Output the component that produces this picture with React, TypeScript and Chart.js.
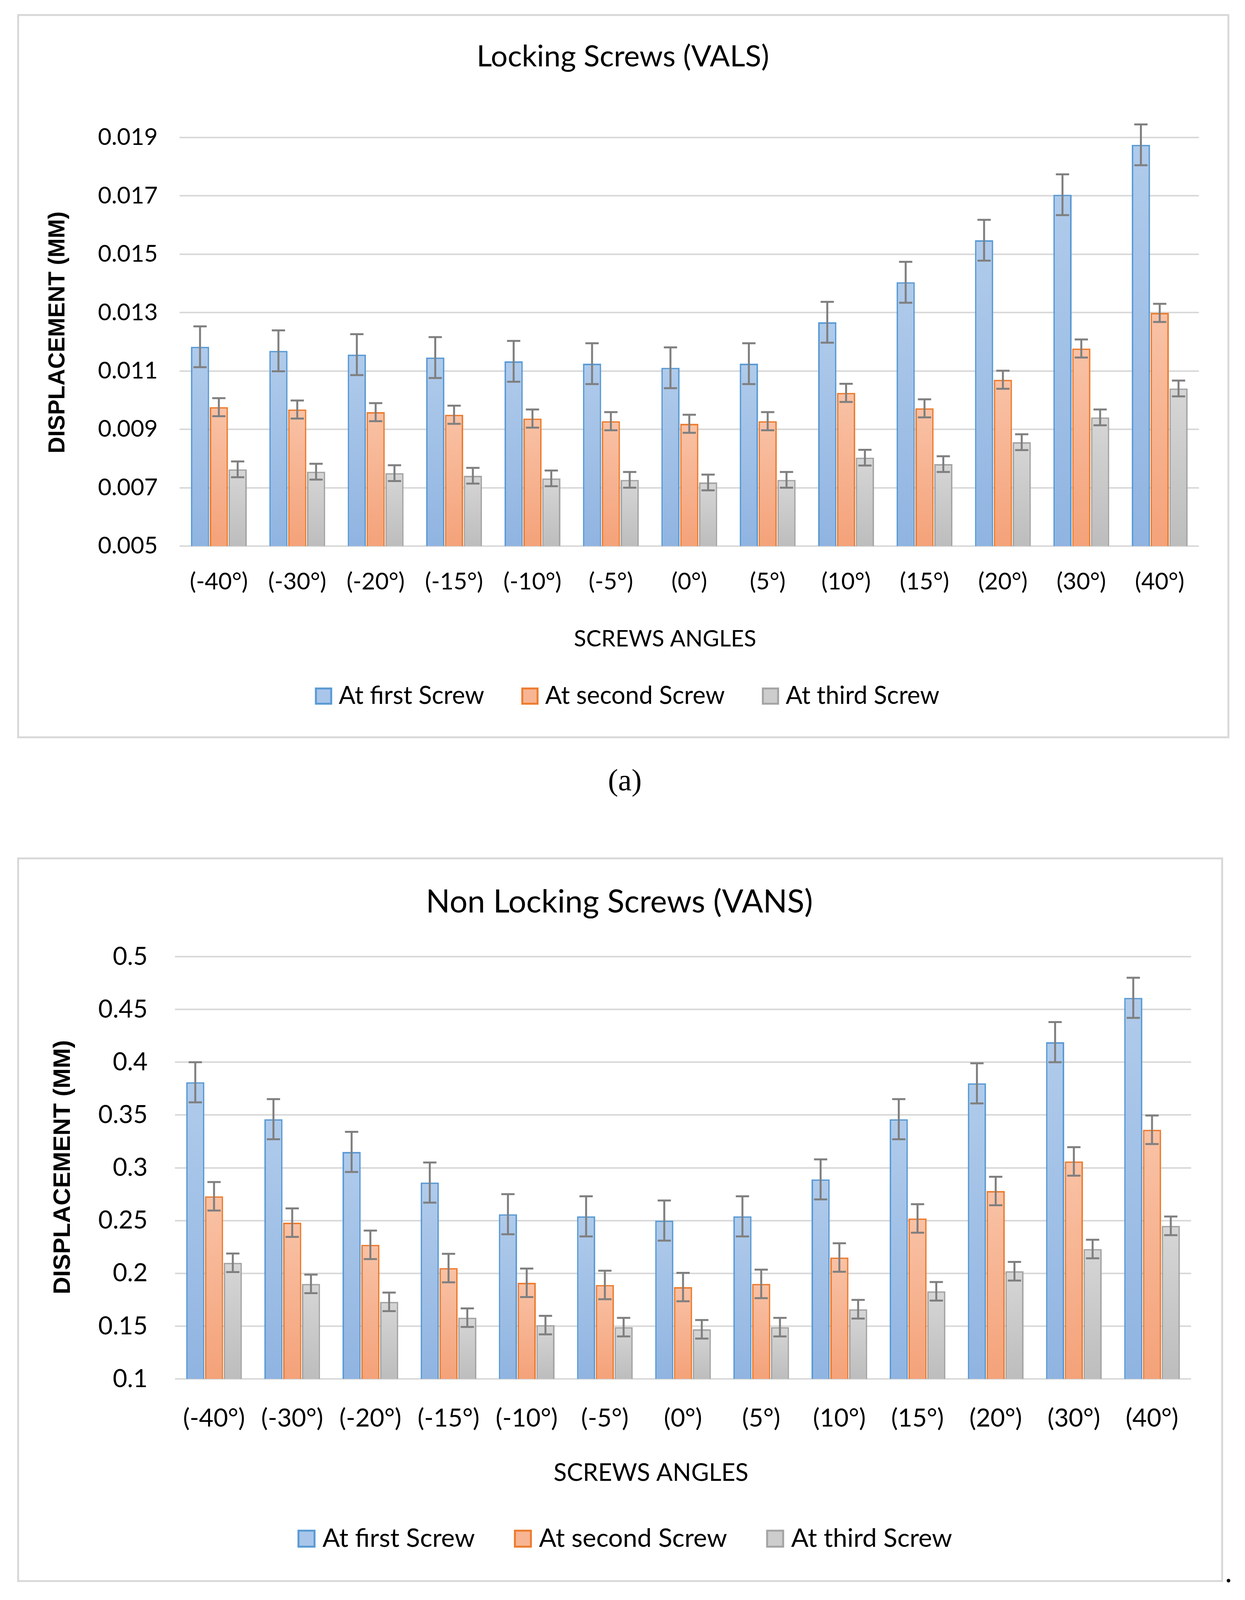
import React, { useEffect, useRef } from 'react';
import { Chart, registerables } from 'chart.js';

Chart.register(...registerables);

// ---------------- DATA ----------------
const ANGLES = ['(-40°)', '(-30°)', '(-20°)', '(-15°)', '(-10°)', '(-5°)', '(0°)', '(5°)', '(10°)', '(15°)', '(20°)', '(30°)', '(40°)'];
const SERIES_NAMES = ['At first Screw', 'At second Screw', 'At third Screw'];

// (a) Locking Screws (VALS)
const VALS_FIRST = [0.01183, 0.01169, 0.01156, 0.01146, 0.01133, 0.01125, 0.01111, 0.01125, 0.01267, 0.01404, 0.01548, 0.01704, 0.01875];
const VALS_SECOND = [0.00976, 0.00968, 0.00959, 0.0095, 0.00937, 0.00928, 0.00919, 0.00928, 0.01025, 0.00972, 0.0107, 0.01177, 0.01299];
const VALS_THIRD = [0.00763, 0.00755, 0.0075, 0.00741, 0.00732, 0.00727, 0.00718, 0.00727, 0.00803, 0.00781, 0.00856, 0.00941, 0.0104];
const VALS_FIRST_ERR = [0.0007, 0.0007, 0.0007, 0.0007, 0.0007, 0.0007, 0.0007, 0.0007, 0.0007, 0.0007, 0.0007, 0.0007, 0.0007];
const VALS_SECOND_ERR = [0.00031, 0.00031, 0.00031, 0.00031, 0.00031, 0.00031, 0.00031, 0.00031, 0.00031, 0.00031, 0.00031, 0.00031, 0.00031];
const VALS_THIRD_ERR = [0.00027, 0.00027, 0.00027, 0.00027, 0.00027, 0.00027, 0.00027, 0.00027, 0.00027, 0.00027, 0.00027, 0.00027, 0.00027];
const VALS_Y_TICKS = [0.005, 0.007, 0.009, 0.011, 0.013, 0.015, 0.017, 0.019];
const VALS_Y_LABELS = ['0.005', '0.007', '0.009', '0.011', '0.013', '0.015', '0.017', '0.019'];

// (b) Non Locking Screws (VANS)
const VANS_FIRST = [0.381, 0.346, 0.315, 0.286, 0.256, 0.254, 0.25, 0.254, 0.289, 0.346, 0.38, 0.419, 0.461];
const VANS_SECOND = [0.273, 0.248, 0.227, 0.205, 0.191, 0.189, 0.187, 0.19, 0.215, 0.252, 0.278, 0.306, 0.336];
const VANS_THIRD = [0.21, 0.19, 0.173, 0.158, 0.151, 0.149, 0.147, 0.149, 0.166, 0.183, 0.202, 0.223, 0.245];
const VANS_FIRST_ERR = [0.019, 0.019, 0.019, 0.019, 0.019, 0.019, 0.019, 0.019, 0.019, 0.019, 0.019, 0.019, 0.019];
const VANS_SECOND_ERR = [0.0135, 0.0135, 0.0135, 0.0135, 0.0135, 0.0135, 0.0135, 0.0135, 0.0135, 0.0135, 0.0135, 0.0135, 0.0135];
const VANS_THIRD_ERR = [0.0088, 0.0088, 0.0088, 0.0088, 0.0088, 0.0088, 0.0088, 0.0088, 0.0088, 0.0088, 0.0088, 0.0088, 0.0088];
const VANS_Y_TICKS = [0.1, 0.15, 0.2, 0.25, 0.3, 0.35, 0.4, 0.45, 0.5];
const VANS_Y_LABELS = ['0.1', '0.15', '0.2', '0.25', '0.3', '0.35', '0.4', '0.45', '0.5'];

// ---------------- STYLE ----------------
const SERIES_STYLE = [
  { border: '#5b9bd5', top: '#b0cbeb', bottom: '#90b4e1', legend: '#a9c6ea' },
  { border: '#ed7d31', top: '#f9c2a6', bottom: '#f4a279', legend: '#f7b594' },
  { border: '#a5a5a5', top: '#d6d6d6', bottom: '#bdbdbd', legend: '#cdcdcd' },
];
const GRID = '#d9d9d9';
const TEXT = '#000000';
const SANS = 'Lato, "Noto Sans", sans-serif';
const BOLD_SANS = '"Liberation Sans", Arial, sans-serif';

const barFill = (top: string, bottom: string) => (c: any) => {
  const chart = c.chart;
  if (!chart.chartArea || c.type !== 'data' || c.raw == null) return bottom;
  const ys = chart.scales.y;
  const yTop = ys.getPixelForValue(c.raw as number);
  const yBot = ys.getPixelForValue(ys.min);
  if (!isFinite(yTop) || !isFinite(yBot) || yBot - yTop < 1) return bottom;
  const g = chart.ctx.createLinearGradient(0, yTop, 0, yBot);
  g.addColorStop(0, top);
  g.addColorStop(1, bottom);
  return g;
};

const errorBarPlugin = {
  id: 'errorBars',
  afterDatasetsDraw(chart: any, _a: any, opts: any) {
    const { ctx } = chart;
    const ys = chart.scales.y;
    chart.data.datasets.forEach((ds: any, i: number) => {
      const meta = chart.getDatasetMeta(i);
      meta.data.forEach((el: any, j: number) => {
        const v = ds.data[j];
        const e = ds.errors[j];
        const yt = ys.getPixelForValue(v + e);
        const yb = ys.getPixelForValue(v - e);
        ctx.save();
        ctx.strokeStyle = opts.color;
        ctx.lineWidth = opts.lineWidth;
        ctx.lineCap = 'butt';
        ctx.beginPath();
        ctx.moveTo(el.x, yt);
        ctx.lineTo(el.x, yb);
        ctx.moveTo(el.x - opts.capHalf, yt);
        ctx.lineTo(el.x + opts.capHalf, yt);
        ctx.moveTo(el.x - opts.capHalf, yb);
        ctx.lineTo(el.x + opts.capHalf, yb);
        ctx.stroke();
        ctx.restore();
      });
    });
  },
};

const panelTextPlugin = {
  id: 'panelText',
  afterDraw(chart: any, _a: any, opts: any) {
    const { ctx } = chart;
    ctx.save();
    ctx.fillStyle = TEXT;
    ctx.textBaseline = 'middle';
    // chart title
    ctx.font = `${opts.titleSize}px ${SANS}`;
    ctx.textAlign = 'center';
    ctx.fillText(opts.title, opts.titleX, opts.titleY);
    // x axis title
    ctx.font = `${opts.axisSize}px ${SANS}`;
    ctx.fillText(opts.xTitle, opts.xTitleX, opts.xTitleY);
    // y axis title
    ctx.save();
    ctx.translate(opts.yTitleX, opts.yTitleY);
    ctx.rotate(-Math.PI / 2);
    ctx.font = `bold ${opts.yTitleSize}px ${BOLD_SANS}`;
    ctx.fillText(opts.yTitle, 0, 0);
    ctx.restore();
    // legend
    ctx.font = `${opts.legendSize}px ${SANS}`;
    ctx.textAlign = 'left';
    const names: string[] = chart.data.datasets.map((d: any) => d.label);
    const widths = names.map((n) => ctx.measureText(n).width);
    const box = opts.legendBox;
    let total = 0;
    widths.forEach((w, i) => {
      total += box + opts.legendGapBox + w + (i < widths.length - 1 ? opts.legendGapItem : 0);
    });
    let x = opts.legendX - total / 2;
    names.forEach((n, i) => {
      const st = SERIES_STYLE[i];
      const bx = x, by = opts.legendY - box / 2;
      ctx.fillStyle = st.legend;
      ctx.fillRect(bx, by, box, box);
      ctx.strokeStyle = st.border;
      ctx.lineWidth = 5;
      ctx.strokeRect(bx + 2.5, by + 2.5, box - 5, box - 5);
      ctx.fillStyle = TEXT;
      ctx.fillText(n, x + box + opts.legendGapBox, opts.legendY);
      x += box + opts.legendGapBox + widths[i] + opts.legendGapItem;
    });
    ctx.restore();
  },
};

type PanelSpec = {
  left: number; top: number; width: number; height: number;
  series: number[][]; errors: number[][];
  yTicks: number[]; yLabels: string[];
  plotTop: number; plotBottom: number; plotLeft: number; plotRight: number;
  tickSize: number; xTickPad: number; yTickPad: number;
  text: any;
};

function Panel({ spec }: { spec: PanelSpec }) {
  const ref = useRef<HTMLCanvasElement | null>(null);
  useEffect(() => {
    let chart: Chart | null = null;
    let cancelled = false;
    const fontsReady = (document as any).fonts
      ? Promise.all([
          (document as any).fonts.load(`${spec.tickSize}px Lato`),
          (document as any).fonts.load(`bold 60px "Liberation Sans"`),
        ]).catch(() => null)
      : Promise.resolve(null);
    fontsReady.then(() => {
      if (cancelled || !ref.current) return;
      const yMin = spec.yTicks[0];
      const yMax = spec.yTicks[spec.yTicks.length - 1];
      chart = new Chart(ref.current, {
        type: 'bar',
        data: {
          labels: ANGLES,
          datasets: spec.series.map((vals, i) => ({
            label: SERIES_NAMES[i],
            data: vals,
            errors: spec.errors[i],
            backgroundColor: barFill(SERIES_STYLE[i].top, SERIES_STYLE[i].bottom),
            borderColor: SERIES_STYLE[i].border,
            borderWidth: 4,
            categoryPercentage: 0.72,
            barPercentage: 0.97,
          })) as any,
        },
        options: {
          animation: false,
          responsive: false,
          devicePixelRatio: 1,
          events: [],
          layout: {
            padding: { top: spec.plotTop, bottom: 0, left: 0, right: spec.width - spec.plotRight },
          },
          plugins: {
            legend: { display: false },
            title: { display: false },
            tooltip: { enabled: false },
            errorBars: { color: '#7f7f7f', lineWidth: 5, capHalf: 17 },
            panelText: spec.text,
          } as any,
          scales: {
            x: {
              grid: { display: false },
              border: { display: false },
              ticks: {
                color: TEXT,
                font: { family: SANS, size: spec.tickSize },
                padding: spec.xTickPad,
                maxRotation: 0,
                minRotation: 0,
                autoSkip: false,
              },
              afterFit: (s: any) => { s.height = spec.height - spec.plotBottom; },
            },
            y: {
              min: yMin,
              max: yMax,
              grid: { color: GRID, lineWidth: 4, drawTicks: false },
              border: { display: false },
              ticks: {
                color: TEXT,
                font: { family: SANS, size: spec.tickSize },
                padding: spec.yTickPad,
                callback: (_v: any, idx: number) => spec.yLabels[idx],
              },
              afterBuildTicks: (s: any) => { s.ticks = spec.yTicks.map((v) => ({ value: v })); },
              afterFit: (s: any) => { s.width = spec.plotLeft; },
            },
          },
        } as any,
        plugins: [errorBarPlugin, panelTextPlugin],
      });
    });
    return () => {
      cancelled = true;
      if (chart) chart.destroy();
    };
  }, [spec]);
  return (
    <div
      style={{
        position: 'absolute',
        left: spec.left - 5,
        top: spec.top - 5,
        width: spec.width,
        height: spec.height,
        border: `5px solid ${GRID}`,
        background: '#fff',
      }}
    >
      <canvas ref={ref} width={spec.width} height={spec.height} style={{ display: 'block', width: spec.width, height: spec.height }} />
    </div>
  );
}

const PANEL_A: PanelSpec = {
  left: 49, top: 41, width: 3094, height: 1844,
  series: [VALS_FIRST, VALS_SECOND, VALS_THIRD],
  errors: [VALS_FIRST_ERR, VALS_SECOND_ERR, VALS_THIRD_ERR],
  yTicks: VALS_Y_TICKS, yLabels: VALS_Y_LABELS,
  plotTop: 311, plotBottom: 1357, plotLeft: 411, plotRight: 3021,
  tickSize: 60, xTickPad: 48, yTickPad: 56,
  text: {
    title: 'Locking Screws (VALS)', titleSize: 76, titleX: 1546, titleY: 104,
    xTitle: 'SCREWS ANGLES', axisSize: 58, xTitleX: 1654, xTitleY: 1595,
    yTitle: 'DISPLACEMENT (MM)', yTitleSize: 59, yTitleX: 100, yTitleY: 810,
    legendSize: 63, legendX: 1557, legendY: 1741, legendBox: 44, legendGapBox: 17, legendGapItem: 95,
  },
};

const PANEL_B: PanelSpec = {
  left: 49, top: 2200, width: 3078, height: 1845,
  series: [VANS_FIRST, VANS_SECOND, VANS_THIRD],
  errors: [VANS_FIRST_ERR, VANS_SECOND_ERR, VANS_THIRD_ERR],
  yTicks: VANS_Y_TICKS, yLabels: VANS_Y_LABELS,
  plotTop: 249, plotBottom: 1330, plotLeft: 399, plotRight: 3001,
  tickSize: 64, xTickPad: 55, yTickPad: 70,
  text: {
    title: 'Non Locking Screws (VANS)', titleSize: 81, titleX: 1537, titleY: 110,
    xTitle: 'SCREWS ANGLES', axisSize: 62, xTitleX: 1618, xTitleY: 1571,
    yTitle: 'DISPLACEMENT (MM)', yTitleSize: 62, yTitleX: 113, yTitleY: 788,
    legendSize: 66, legendX: 1551, legendY: 1739, legendBox: 46, legendGapBox: 18, legendGapItem: 100,
  },
};

const captionStyle: React.CSSProperties = {
  position: 'absolute',
  left: 0,
  width: 3200,
  textAlign: 'center',
  fontFamily: '"Liberation Serif", "Times New Roman", serif',
  fontSize: 78,
  lineHeight: '78px',
  color: '#000',
};

export default function App() {
  useEffect(() => {
    document.body.style.margin = '0';
    document.body.style.background = '#fff';
  }, []);
  return (
    <div style={{ position: 'relative', width: 3188, height: 4243, background: '#fff', overflow: 'hidden' }}>
      <Panel spec={PANEL_A} />
      <div style={{ ...captionStyle, top: 1958 }}>(a)</div>
      <Panel spec={PANEL_B} />
      <div style={{ ...captionStyle, top: 4140 }}>(b)</div>
      <div style={{ position: 'absolute', left: 3136, top: 3985, fontFamily: '"Liberation Serif", serif', fontSize: 78, lineHeight: '78px', color: '#000' }}>.</div>
    </div>
  );
}
